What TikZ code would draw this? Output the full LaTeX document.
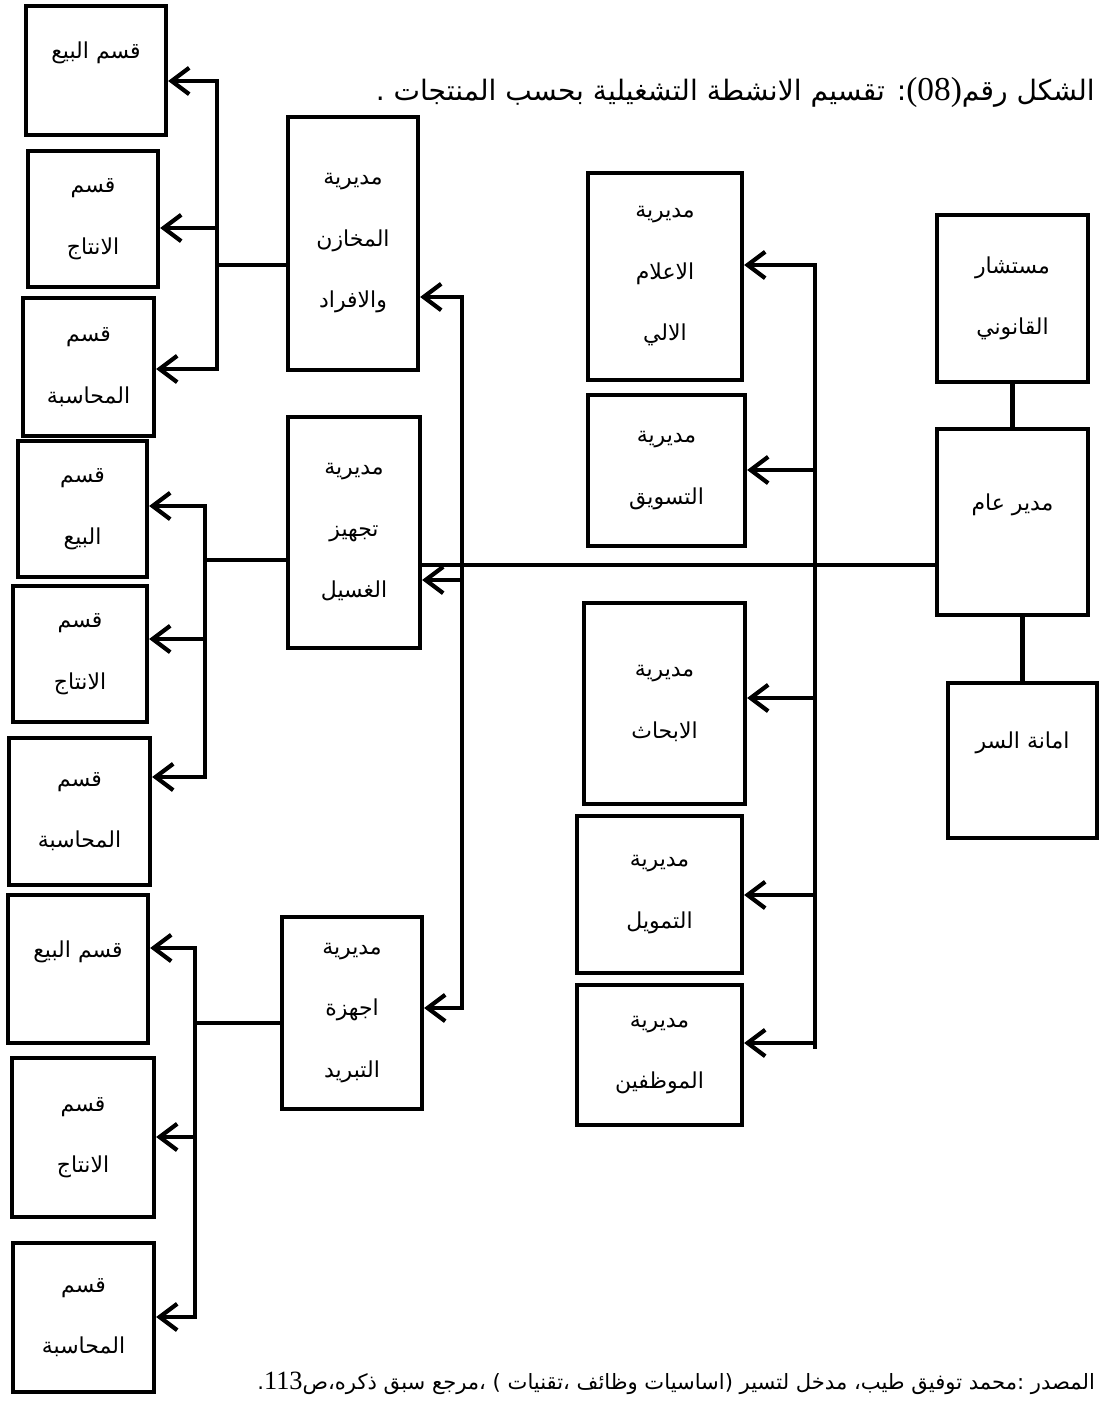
\documentclass[tikz,border=0pt]{standalone}
\usepackage{fontspec}
\usetikzlibrary{arrows.meta}
\TeXXeTstate=1
\newfontfamily\arabicfont[Script=Arabic]{DejaVu Sans}
\newfontfamily\latinfont{Liberation Serif}
\newcommand{\ar}[1]{\beginR #1\endR}

\begin{document}
\begin{tikzpicture}[x=0.02cm,y=-0.02cm,box/.style={draw, line width=2.4pt, align=center, inner sep=0pt, font=\arabicfont\fontsize{12.5}{35}\selectfont},oneline/.style={text depth=0.8cm},conn/.style={line width=2.4pt, line cap=rect},arr/.style={conn, -{Straight Barb[length=10pt,width=15pt]}}]
\newcommand{\orgbox}[7][]{\node[box,#1,minimum width={(#4-#2)*0.02cm},minimum height={(#5-#3)*0.02cm}] (#6) at ({(#2+#4)/2},{(#3+#5)/2}) {#7};}
\useasboundingbox (0,0) rectangle (1105,1402);
\node[anchor=east, font=\arabicfont\fontsize{16}{19}\selectfont] (title) at (1101,92) {\ar{الشكل رقم\beginL{\latinfont\fontsize{19}{19}\selectfont(08)}\endL: تقسيم الانشطة التشغيلية بحسب المنتجات .}};
\node[anchor=east, font=\arabicfont\fontsize{12}{15}\selectfont] (source) at (1101,1383) {\ar{المصدر :محمد توفيق طيب، مدخل لتسير (اساسيات وظائف ،تقنيات ) ،مرجع سبق ذكره،ص\beginL{\latinfont\fontsize{15}{15}\selectfont 113}\endL.}};
% general management and its staff
\orgbox{937}{215}{1088}{382}{C}{\ar{مستشار}\\\ar{القانوني}}
\orgbox[oneline]{937}{429}{1088}{615}{DG}{\ar{مدير عام}}
\orgbox[oneline]{948}{683}{1097}{838}{S}{\ar{امانة السر}}
\draw[conn] (C.south) -- (DG.north);
\draw[conn] (S.north |- DG.south) -- (S.north);
% support directorates
\orgbox{588}{173}{742}{380}{R1}{\ar{مديرية}\\\ar{الاعلام}\\\ar{الالي}}
\orgbox{588}{395}{745}{546}{R2}{\ar{مديرية}\\\ar{التسويق}}
\orgbox{584}{603}{745}{804}{R3}{\ar{مديرية}\\\ar{الابحاث}}
\orgbox{577}{816}{742}{973}{R4}{\ar{مديرية}\\\ar{التمويل}}
\orgbox{577}{985}{742}{1125}{R5}{\ar{مديرية}\\\ar{الموظفين}}
% product directorates
\orgbox{288}{117}{418}{370}{M1}{\ar{مديرية}\\\ar{المخازن}\\\ar{والافراد}}
\orgbox{288}{417}{420}{648}{M2}{\ar{مديرية}\\\ar{تجهيز}\\\ar{الغسيل}}
\orgbox{282}{917}{422}{1109}{M3}{\ar{مديرية}\\\ar{اجهزة}\\\ar{التبريد}}
% departments
\orgbox[oneline]{26}{6}{166}{135}{B1}{\ar{قسم البيع}}
\orgbox{28}{151}{158}{287}{B2}{\ar{قسم}\\\ar{الانتاج}}
\orgbox{23}{298}{154}{436}{B3}{\ar{قسم}\\\ar{المحاسبة}}
\orgbox{18}{441}{147}{577}{B4}{\ar{قسم}\\\ar{البيع}}
\orgbox{13}{586}{147}{722}{B5}{\ar{قسم}\\\ar{الانتاج}}
\orgbox{9}{738}{150}{885}{B6}{\ar{قسم}\\\ar{المحاسبة}}
\orgbox[oneline]{8}{895}{148}{1043}{B7}{\ar{قسم البيع}}
\orgbox{12}{1058}{154}{1217}{B8}{\ar{قسم}\\\ar{الانتاج}}
\orgbox{13}{1243}{154}{1392}{B9}{\ar{قسم}\\\ar{المحاسبة}}
% buses
\coordinate (rbus) at (815,0);\coordinate (mbus) at (462,0);
\draw[conn] (DG.west |- 0,565) -- (M2.east |- 0,565);
\draw[conn] (rbus |- 0,265) -- (rbus |- 0,1047);
\foreach \r/\y in {R1/265,R2/470,R3/698,R4/895,R5/1043}\draw[arr] (rbus |- 0,\y) -- (\r.east |- 0,\y);
\draw[conn] (mbus |- 0,297) -- (mbus |- 0,1008);
\foreach \m/\y in {M1/297,M2/580,M3/1008}\draw[arr] (mbus |- 0,\y) -- (\m.east |- 0,\y);
% brackets to the departments
\coordinate (b1) at (217,0);\coordinate (b2) at (205,0);\coordinate (b3) at (195,0);
\draw[conn] (b1 |- 0,81) -- (b1 |- 0,369);\draw[conn] (M1.west |- 0,265) -- (b1 |- 0,265);
\foreach \b/\y in {B1/81,B2/228,B3/369}\draw[arr] (b1 |- 0,\y) -- (\b.east |- 0,\y);
\draw[conn] (b2 |- 0,506) -- (b2 |- 0,777);\draw[conn] (M2.west |- 0,560) -- (b2 |- 0,560);
\foreach \b/\y in {B4/506,B5/639,B6/777}\draw[arr] (b2 |- 0,\y) -- (\b.east |- 0,\y);
\draw[conn] (b3 |- 0,948) -- (b3 |- 0,1317);\draw[conn] (M3.west |- 0,1023) -- (b3 |- 0,1023);
\foreach \b/\y in {B7/948,B8/1137,B9/1317}\draw[arr] (b3 |- 0,\y) -- (\b.east |- 0,\y);
\end{tikzpicture}
\end{document}
